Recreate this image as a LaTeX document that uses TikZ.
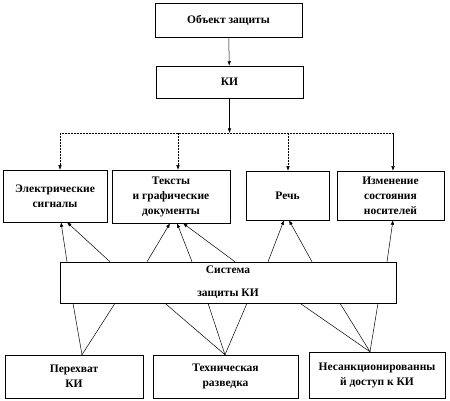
\documentclass[tikz,border=0pt]{standalone}
\usepackage{fontspec}
\setmainfont{Liberation Serif}
\usetikzlibrary{arrows.meta,positioning,calc}
\tikzset{
  block/.style={draw,line width=0.5pt,align=center,inner sep=2pt,
    font=\bfseries\fontsize{11.5}{15}\selectfont},
  link/.style={line width=0.5pt},
  arr/.style={-{Latex[length=4.5pt,width=3.5pt]}}
}
\begin{document}
\begin{tikzpicture}[x=1pt,y=-1pt]
\useasboundingbox (0,0) rectangle (450,401);
% top
\node[block,minimum width=147pt,minimum height=34pt] (obj) at (228.5,20) {Объект защиты};
\node[block,minimum width=147pt,minimum height=32pt] (ki) at (229.5,82) {КИ};
\draw[link,arr] (obj) -- (ki);
% channels
\node[block,minimum width=104pt,minimum height=52pt] (sig) at (55,196) {Электрические\\сигналы};
\node[block,minimum width=118pt,minimum height=53pt] (txt) at (171,196.5) {Тексты\\и графические\\документы};
\node[block,minimum width=83pt,minimum height=49pt] (sp) at (287.5,195.5) {Речь};
\node[block,minimum width=107pt,minimum height=49pt] (chg) at (390.5,195.5) {Изменение\\состояния\\носителей};
\coordinate (bus) at (228,133);
\coordinate (busA) at (60,133);
\coordinate (busB) at (178,133);
\coordinate (busC) at (288,133);
\coordinate (busD) at (393,133);
\draw[link,arr] (ki.south) -- (ki.south |- bus);
\draw[link,densely dotted] (busA) -- (busD);
\draw[link,densely dotted,arr] (busA) -- (busA |- sig.north);
\draw[link,densely dotted,arr] (busB) -- (busB |- txt.north);
\draw[link,densely dotted,arr] (busC) -- (busC |- sp.north);
\draw[link,arr] (busD) -- (busD |- chg.north);
% protection system
\node[block,minimum width=336pt,minimum height=41pt,
  font=\bfseries\fontsize{11.5}{23}\selectfont] (sys) at (228,282.5) {Система\\защиты КИ};
\foreach \a/\b/\n in {67/61/sig,110/67/sig,147/170/txt,192/177/txt,235/183/txt,268/284/sp,312/289/sp,387/393/chg}
  \draw[link,arr] (\a,0 |- sys.north) -- (\b,0 |- \n.south);
% threats
\node[block,minimum width=138pt,minimum height=43pt] (intc) at (74,376.5) {Перехват\\КИ};
\node[block,minimum width=145pt,minimum height=43pt] (tech) at (225.5,376.5) {Техническая\\разведка};
\node[block,minimum width=136pt,minimum height=46pt] (un) at (377,375) {Несанкционированны\\й доступ к КИ};
\foreach \a/\n/\c in {73/intc/82,115/intc/82,165/tech/225,208/tech/225,247/tech/225,300/un/370,340/un/370,378/un/370}
  \draw[link] (\a,0 |- sys.south) -- (\c,0 |- \n.north);
\end{tikzpicture}
\end{document}
